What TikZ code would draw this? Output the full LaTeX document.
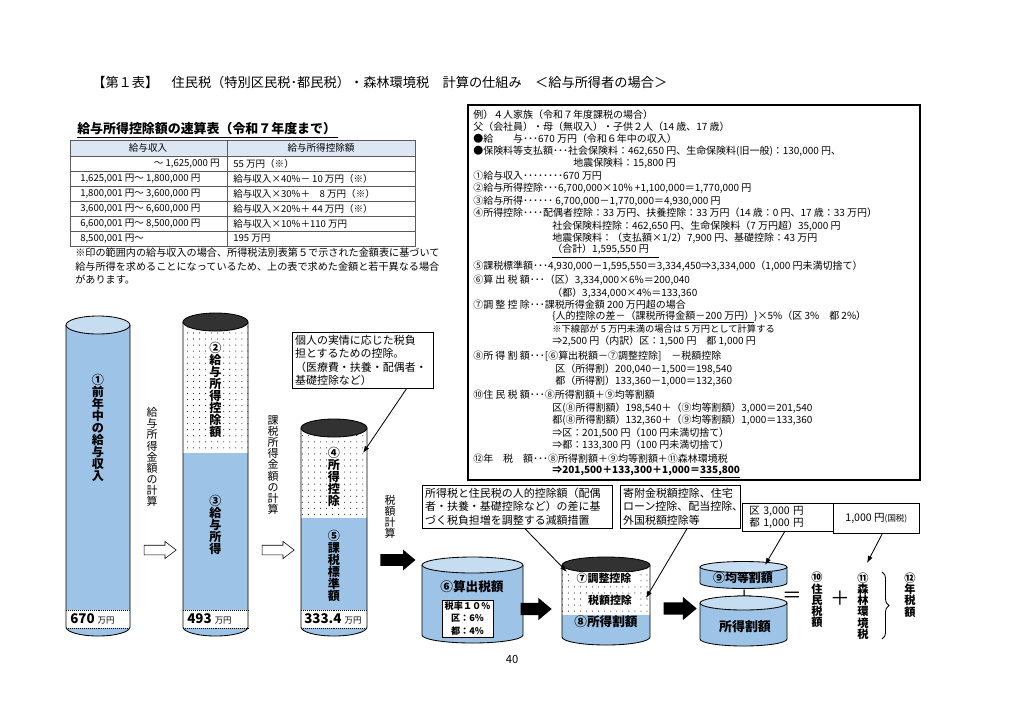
\documentclass[tikz,border=0pt]{standalone}
\usepackage{fontspec}
\setmainfont{Noto Sans CJK JP}
\usetikzlibrary{positioning, arrows.meta, shapes.arrows, calc, patterns.meta, decorations.pathreplacing}
\definecolor{cylblue}{RGB}{157,195,230}
\definecolor{cyllite}{RGB}{197,220,241}
\definecolor{cyldark}{RGB}{50,50,50}
\definecolor{hdrfill}{RGB}{221,231,243}
\definecolor{tblline}{RGB}{90,90,90}
\tikzset{
  TX/.style={font=\fontsize{7.1}{8}\selectfont,anchor=west,inner sep=0pt},
  TB/.style={font=\fontsize{6.8}{8}\selectfont,inner sep=0pt},
  NB/.style={draw=black,fill=white,rectangle,align=left,font=\fontsize{7.8}{9.6}\selectfont,inner xsep=2pt,inner ysep=2pt,anchor=north west},
  VL/.style={font=\bfseries\fontsize{8.6}{8.6}\selectfont,align=center,inner sep=0.6pt},
  VT/.style={font=\fontsize{7.8}{7.9}\selectfont,align=center,inner sep=0pt},
  HL/.style={font=\bfseries\fontsize{9}{10}\selectfont,inner sep=0.6pt},
  HA/.style={draw=black,fill=white,single arrow,single arrow head extend=2.7pt,single arrow tip angle=75,minimum height=22.8pt,inner xsep=0pt,inner ysep=3.2pt},
  BA/.style={fill=black,single arrow,single arrow tip angle=80,inner xsep=0pt},
  CL/.style={-{Latex[length=5pt,width=3.6pt]},semithick},
  CY/.style={draw=black,semithick},
  DT/.style={pattern={Dots[distance=4.3pt,radius=0.38pt]},pattern color=black},
  BND/.style={font=\bfseries\fontsize{9.5}{10}\selectfont,anchor=west,inner sep=0pt},
}
\begin{document}
\begin{tikzpicture}[x=0.025cm,y=-0.025cm]
\useasboundingbox (0,0) rectangle (1024,726);
\fill[white] (0,0) rectangle (1024,726);

% Title
\node[anchor=west,inner sep=0pt,font=\fontsize{9.4}{11}\selectfont] (title) at (92,82) {【第１表】　住民税（特別区民税･都民税）・森林環境税　計算の仕組み　＜給与所得者の場合＞};

% Quick table of the salary deduction
\node[anchor=west,inner sep=0pt,font=\bfseries\fontsize{9.2}{11}\selectfont] (tbltitle) at (77,130) {\underline{給与所得控除額の速算表（令和７年度まで）\,}};
\fill[hdrfill] (70,140) rectangle (415,156);
\draw[tblline] (70,140) rectangle (415,246);
\draw[tblline] (227,140) -- (227,246);
\draw[tblline] (70,156) -- (415,156) (70,171) -- (415,171) (70,186) -- (415,186)
  (70,201) -- (415,201) (70,216) -- (415,216) (70,231) -- (415,231);
\node[TB] (hdrinc) at (148,148) {給与収入};
\node[TB] (hdrded) at (321,148) {給与所得控除額};
\node[TB,anchor=east] (inc1) at (220,163.5) {～ 1,625,000 円};
\node[TB,anchor=west] (inc2) at (80,178.5) {1,625,001 円～ 1,800,000 円};
\node[TB,anchor=west] (inc3) at (80,193.5) {1,800,001 円～ 3,600,000 円};
\node[TB,anchor=west] (inc4) at (80,208.5) {3,600,001 円～ 6,600,000 円};
\node[TB,anchor=west] (inc5) at (80,223.5) {6,600,001 円～ 8,500,000 円};
\node[TB,anchor=west] (inc6) at (80,238.5) {8,500,001 円～};
\node[TB,anchor=west] (ded1) at (233,163.5) {55 万円（※）};
\node[TB,anchor=west] (ded2) at (233,178.5) {給与収入×40\%－ 10 万円（※）};
\node[TB,anchor=west] (ded3) at (233,193.5) {給与収入×30\%＋　8 万円（※）};
\node[TB,anchor=west] (ded4) at (233,208.5) {給与収入×20\%＋ 44 万円（※）};
\node[TB,anchor=west] (ded5) at (233,223.5) {給与収入×10\%＋110 万円};
\node[TB,anchor=west] (ded6) at (233,238.5) {195 万円};
\node[TX,font=\fontsize{7.2}{8}\selectfont] (tnote1) at (75,253) {※印の範囲内の給与収入の場合、所得税法別表第５で示された金額表に基づいて};
\node[TX,font=\fontsize{7.2}{8}\selectfont] (tnote2) at (75,267) {給与所得を求めることになっているため、上の表で求めた金額と若干異なる場合};
\node[TX,font=\fontsize{7.2}{8}\selectfont] (tnote3) at (75,280) {があります。};

% Example box
\draw[thick] (468,105) rectangle (920,480);
\node[TX] (ex1)  at (473,115) {例）４人家族（令和７年度課税の場合）};
\node[TX] (ex2)  at (473,127) {父（会社員）・母（無収入）・子供２人（14 歳、17 歳）};
\node[TX] (ex3)  at (473,139) {●給　　与･･･670 万円（令和６年中の収入）};
\node[TX] (ex4)  at (473,151) {●保険料等支払額･･･社会保険料：462,650 円、生命保険料(旧一般)：130,000 円、};
\node[TX] (ex5)  at (573,163) {地震保険料：15,800 円};
\node[TX] (ex6)  at (473,176) {①給与収入････････670 万円};
\node[TX] (ex7)  at (473,188) {②給与所得控除･･･6,700,000×10\%  +1,100,000＝1,770,000 円};
\node[TX] (ex8)  at (473,201) {③給与所得･･････ 6,700,000－1,770,000＝4,930,000 円};
\node[TX] (ex9)  at (473,213) {④所得控除････配偶者控除：33 万円、扶養控除：33 万円（14 歳：0 円、17 歳：33 万円）};
\node[TX] (ex10) at (552,226) {社会保険料控除：462,650 円、生命保険料（7 万円超）35,000 円};
\node[TX] (ex11) at (552,238) {地震保険料：（支払額×1/2）7,900 円、基礎控除：43 万円};
\node[TX] (ex12) at (552,251) {\underline{（合計）1,595,550 円\quad}};
\node[TX] (ex13) at (473,266) {⑤課税標準額･･･4,930,000－1,595,550＝3,334,450⇒3,334,000（1,000 円未満切捨て）};
\node[TX] (ex14) at (473,280) {⑥算 出 税 額･･･（区）3,334,000×6\%＝200,040};
\node[TX] (ex15) at (552,293) {（都）3,334,000×4\%＝133,360};
\node[TX] (ex16) at (473,305) {⑦調 整 控 除･･･課税所得金額 200 万円超の場合};
\node[TX] (ex17) at (552,317) {\{\underline{人的控除の差－（課税所得金額－200 万円）}\}×5\%（区 3\%　都 2\%）};
\node[TX,font=\fontsize{6.6}{8}\selectfont] (ex18) at (552,329) {※下線部が 5 万円未満の場合は 5 万円として計算する};
\node[TX] (ex19) at (552,341) {⇒2,500 円（内訳）区：1,500 円　都 1,000 円};
\node[TX] (ex20) at (473,356) {⑧所 得 割 額･･･[⑥算出税額－⑦調整控除]　－税額控除};
\node[TX] (ex21) at (555,369) {区（所得割）200,040－1,500＝198,540};
\node[TX] (ex22) at (555,381) {都（所得割）133,360－1,000＝132,360};
\node[TX] (ex23) at (473,395) {⑩住 民 税 額･･･⑧所得割額＋⑨均等割額};
\node[TX] (ex24) at (552,408) {区(⑧所得割額）198,540＋（⑨均等割額）3,000＝201,540};
\node[TX] (ex25) at (552,420) {都(⑧所得割額）132,360＋（⑨均等割額）1,000＝133,360};
\node[TX] (ex26) at (552,433) {⇒区：201,500 円（100 円未満切捨て）};
\node[TX] (ex27) at (552,445) {⇒都：133,300 円（100 円未満切捨て）};
\node[TX] (ex28) at (473,459) {⑫年　税　額･･･⑧所得割額＋⑨均等割額＋⑪森林環境税};
\node[TX,font=\bfseries\fontsize{7.1}{8}\selectfont] (ex29) at (552,472) {⇒201,500＋133,300＋1,000＝\underline{335,800}};

% Cylinder 1: salary income
\fill[cylblue] (66,325) -- (66,627) arc[start angle=180,end angle=0,x radius=32,y radius=9] -- (130,325) -- cycle;
\fill[white] (66,610) rectangle (130,628);
\draw[densely dotted] (66,610) -- (130,610) (66,628) -- (130,628);
\draw[CY] (66,325) -- (66,627) arc[start angle=180,end angle=0,x radius=32,y radius=9] -- (130,325);
\filldraw[CY,fill=cyllite] (98,325) ellipse[x radius=32,y radius=9];
\node[VL] (c1lbl) at (98,428) {①\\前\\年\\中\\の\\給\\与\\収\\入};
\node[BND] (c1val) at (70,619) {670 {\mdseries\fontsize{6}{7}\selectfont 万円}};

\node[VT] (calc1) at (152,457) {給\\与\\所\\得\\金\\額\\の\\計\\算};
\node[HA] (ar1) at (157,550) {};

% Cylinder 2: salary deduction / salary income
\fill[white,postaction={DT}] (183,322) rectangle (248,453);
\fill[cylblue] (183,453) -- (183,627) arc[start angle=180,end angle=0,x radius=32.5,y radius=9] -- (248,453) -- cycle;
\fill[white] (183,610) rectangle (248,628);
\draw[densely dotted] (183,610) -- (248,610) (183,628) -- (248,628);
\draw[CY] (183,322) -- (183,627) arc[start angle=180,end angle=0,x radius=32.5,y radius=9] -- (248,322);
\filldraw[CY,fill=cyldark] (215.5,322) ellipse[x radius=32.5,y radius=9];
\node[VL,fill=white] (c2lbl) at (215.5,390) {②\\給\\与\\所\\得\\控\\除\\額};
\node[VL] (c3lbl) at (215.5,525) {③\\給\\与\\所\\得};
\node[BND] (c2val) at (187,619) {493 {\mdseries\fontsize{6}{7}\selectfont 万円}};

\node[VT] (calc2) at (273,465) {課\\税\\所\\得\\金\\額\\の\\計\\算};
\node[HA] (ar2) at (275,550) {};

% Cylinder 3: income deduction / taxable base
\fill[white,postaction={DT}] (301,428) rectangle (367,518);
\fill[cylblue] (301,518) -- (301,627) arc[start angle=180,end angle=0,x radius=33,y radius=9] -- (367,518) -- cycle;
\fill[white] (301,610) rectangle (367,628);
\draw[densely dotted] (301,610) -- (367,610) (301,628) -- (367,628);
\draw[CY] (301,428) -- (301,627) arc[start angle=180,end angle=0,x radius=33,y radius=9] -- (367,428);
\filldraw[CY,fill=cyldark] (334,428) ellipse[x radius=33,y radius=9];
\node[VL,fill=white] (c4lbl) at (334,477) {④\\所\\得\\控\\除};
\node[VL] (c5lbl) at (334,566) {⑤\\課\\税\\標\\準\\額};
\node[BND] (c3val) at (304,619) {333.4 {\mdseries\fontsize{6}{7}\selectfont 万円}};

\node[NB,text width=96pt] (note4) at (292,332) {個人の実情に応じた税負\\担とするための控除。\\（医療費・扶養・配偶者・\\基礎控除など）};
\coordinate (tip4) at (363,453);
\draw[CL] ($(note4.south west)!0.81!(note4.south east)$) -- (tip4);

\node[VT] (calc3) at (390,517) {税\\額\\計\\算};
\node[BA,minimum height=24.9pt,inner ysep=3.9pt,single arrow head extend=3.2pt] (ar3) at (394.5,560) {};

% Cylinder 6: calculated tax
\fill[cylblue] (422,565) -- (422,635) arc[start angle=180,end angle=0,x radius=50.5,y radius=8] -- (523,565) -- cycle;
\draw[CY] (422,565) -- (422,635) arc[start angle=180,end angle=0,x radius=50.5,y radius=8] -- (523,565);
\filldraw[CY,fill=cyllite] (472.5,565) ellipse[x radius=50.5,y radius=8];
\node[HL] (c6lbl) at (472,587) {⑥算出税額};
\node[draw,fill=white,align=center,inner sep=0pt,minimum width=36pt,minimum height=26pt,font=\bfseries\fontsize{6.5}{8.9}\selectfont] (rate6) at (467.5,618.5) {税率１０\%\\区：6\%\\都：4\%};

\node[BA,minimum height=22pt,inner ysep=4.2pt,single arrow head extend=3.5pt] (ar4) at (532.5,609) {};

% Cylinder 7/8: adjustment and tax credits / income levy
\fill[white,postaction={DT}] (562,565) rectangle (650,615);
\fill[cylblue] (562,615) -- (562,637) arc[start angle=180,end angle=0,x radius=44,y radius=8] -- (650,615) -- cycle;
\draw[CY] (562,565) -- (562,637) arc[start angle=180,end angle=0,x radius=44,y radius=8] -- (650,565);
\filldraw[CY,fill=cyldark] (606,565) ellipse[x radius=44,y radius=8];
\node[VL,fill=white,font=\bfseries\fontsize{7.8}{8}\selectfont,inner xsep=3pt] (c7lbl) at (604,578) {⑦調整控除};
\node[VL,fill=white,font=\bfseries\fontsize{7.8}{8}\selectfont,inner xsep=3pt] (credlbl) at (610,600) {税額控除};
\node[HL] (c8lbl) at (606,622) {⑧所得割額};

\node[NB,text width=131pt] (note7) at (422,485) {所得税と住民税の人的控除額（配偶\\者・扶養・基礎控除など）の差に基\\づく税負担増を調整する減額措置};
\coordinate (tip7) at (567,572);
\draw[CL] ($(note7.south west)!0.54!(note7.south east)$) -- (tip7);
\node[NB,text width=81pt] (notecred) at (620,485) {寄附金税額控除、住宅\\ローン控除、配当控除、\\外国税額控除等};
\coordinate (tipcred) at (646,598);
\draw[CL] ($(notecred.south west)!0.56!(notecred.south east)$) -- (tipcred);

\node[BA,minimum height=23.5pt,inner ysep=4.2pt,single arrow head extend=3.8pt] (ar5) at (676.5,608.5) {};

% Cylinder 9: per capita levy, and income levy
\fill[cylblue] (700,567) -- (700,583) arc[start angle=180,end angle=0,x radius=43.5,y radius=5.5] -- (787,567) -- cycle;
\draw[CY] (700,567) -- (700,583) arc[start angle=180,end angle=0,x radius=43.5,y radius=5.5] -- (787,567);
\filldraw[CY,fill=cyllite] (743.5,567) ellipse[x radius=43.5,y radius=5.5];
\node[HL,font=\bfseries\fontsize{8.5}{9}\selectfont] (c9lbl) at (743,578) {⑨均等割額};
\node[inner sep=0pt,font=\fontsize{13}{13}\selectfont] (plus1) at (745,597) {＋};
\fill[cylblue] (700,603) -- (700,639) arc[start angle=180,end angle=0,x radius=43.5,y radius=7] -- (787,603) -- cycle;
\draw[CY] (700,603) -- (700,639) arc[start angle=180,end angle=0,x radius=43.5,y radius=7] -- (787,603);
\filldraw[CY,fill=cyllite] (743.5,603) ellipse[x radius=43.5,y radius=7];
\node[HL,font=\bfseries\fontsize{9.2}{10}\selectfont] (incllbl) at (745,627) {所得割額};

\node[NB,text width=55pt,font=\fontsize{7.5}{8.6}\selectfont,inner xsep=5pt] (note9) at (742,503) {区 3,000 円\\都 1,000 円};
\coordinate (tip9) at (765,565);
\draw[CL] ($(note9.south west)!0.465!(note9.south east)$) -- (tip9);
\node[draw=black,fill=white,minimum width=61.2pt,minimum height=21.3pt,anchor=north west,inner sep=0pt,font=\fontsize{7.5}{8.6}\selectfont] (note11) at (833,503) {1,000 円{\fontsize{6}{7}\selectfont (国税)}};
\coordinate (tip11) at (867,563);
\draw[CL] ($(note11.south west)!0.57!(note11.south east)$) -- (tip11);

% Totals
\node[inner sep=0pt,font=\fontsize{14}{14}\selectfont] (eqsign) at (792,597) {＝};
\node[VL,font=\bfseries\fontsize{8}{8}\selectfont] (c10lbl) at (817,600) {⑩\\住\\民\\税\\額};
\node[inner sep=0pt,font=\fontsize{14}{14}\selectfont] (plus2) at (840,598) {＋};
\node[VL,font=\bfseries\fontsize{8}{8}\selectfont] (c11lbl) at (863,606) {⑪\\森\\林\\環\\境\\税};
\draw[semithick,decorate,decoration={brace,amplitude=5pt}] (882,572) -- (882,639);
\node[VL,font=\bfseries\fontsize{8}{8}\selectfont] (c12lbl) at (910,595) {⑫\\年\\税\\額};

\node[inner sep=0pt,font=\fontsize{8}{9}\selectfont] (pageno) at (512,659) {40};
\end{tikzpicture}
\end{document}
